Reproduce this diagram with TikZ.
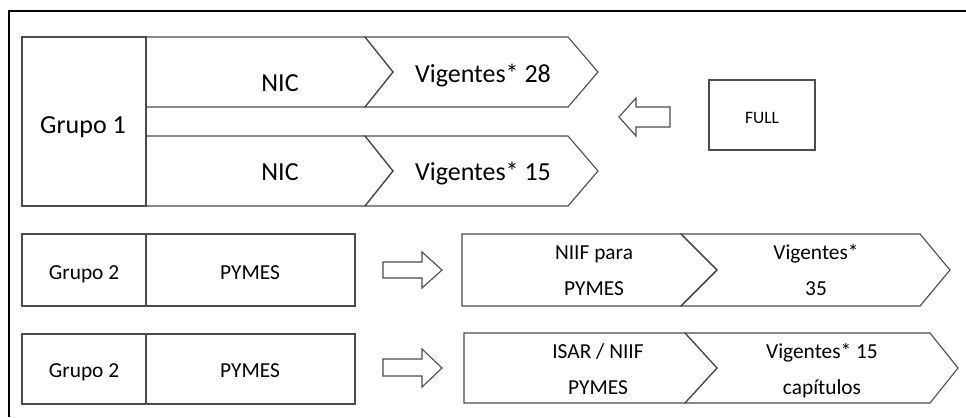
\documentclass[tikz,border=0pt]{standalone}
\usepackage{fontspec}
\setmainfont{Carlito}

\begin{document}
\begin{tikzpicture}[x=0.025cm, y=-0.025cm]

    % Define styles
    \tikzset{
        frame/.style={black, line width=1.3pt},
        outline/.style={black!70, line width=0.8pt},
        bigtext/.style={anchor=base, font=\fontsize{18.5}{22}\selectfont},
        smalltext/.style={anchor=base, font=\fontsize{15.2}{25.6}\selectfont, align=center},
        fulltext/.style={anchor=base, font=\fontsize{12.4}{15}\selectfont}
    }

    \useasboundingbox (0,0) rectangle (966,417);

    % 1. Outer frame (cut at right and bottom)
    \draw[frame] (9,417) -- (9,11) -- (966,11);

    % 2. Grupo 1 with its two rows
    \draw[outline] (22,37) rectangle (146,206);
    \node[bigtext] (Grupo1) at (83,133) {Grupo 1};

    % upper row
    \draw[outline] (146,37) -- (365,37) -- (393,72) -- (365,107) -- (146,107);
    \draw[outline] (365,37) -- (568,37) -- (598,72) -- (568,107) -- (365,107) -- (393,72) -- cycle;
    \node[bigtext] (NicA) at (280,91) {NIC};
    \node[bigtext] (VigA) at (483,82) {Vigentes* 28};

    % lower row
    \draw[outline] (146,136) -- (365,136) -- (393,171) -- (365,206) -- (146,206);
    \draw[outline] (365,136) -- (568,136) -- (598,171) -- (568,206) -- (365,206) -- (393,171) -- cycle;
    \node[bigtext] (NicB) at (280,180) {NIC};
    \node[bigtext] (VigB) at (483,180) {Vigentes* 15};

    % 3. FULL box and hollow arrow pointing left
    \draw[outline] (709,80) rectangle (815,150);
    \node[fulltext] (Full) at (762,123) {FULL};
    \draw[outline] (619,117) -- (636,98) -- (636,107) -- (670,107) -- (670,127)
        -- (636,127) -- (636,136) -- cycle;

    % 4. Grupo 2 (first)
    \draw[outline] (22,234) rectangle (146,306);
    \draw[outline] (146,234) rectangle (355,306);
    \node[smalltext] (GrupoA) at (84,279) {Grupo 2};
    \node[smalltext] (PymesA) at (250,279) {PYMES};
    \draw[outline] (383,262) -- (422,262) -- (422,252) -- (442,270) -- (422,288)
        -- (422,278) -- (383,278) -- cycle;
    \draw[outline] (462,234) -- (681,234) -- (717,270) -- (681,306) -- (462,306) -- cycle;
    \draw[outline] (681,234) -- (920,234) -- (950,270) -- (920,306) -- (681,306) -- (717,270) -- cycle;
    % base of a two-line node = baseline of its last line
    \node[smalltext] (NiifA) at (594,295) {NIIF para\\PYMES};
    \node[smalltext] (VigC) at (816,295) {Vigentes*\\35};

    % 5. Grupo 2 (second)
    \draw[outline] (22,334) rectangle (146,404);
    \draw[outline] (146,334) rectangle (355,404);
    \node[smalltext] (GrupoB) at (84,377) {Grupo 2};
    \node[smalltext] (PymesB) at (250,377) {PYMES};
    \draw[outline] (383,359) -- (422,359) -- (422,349) -- (442,368) -- (422,387)
        -- (422,376) -- (383,376) -- cycle;
    \draw[outline] (464,333) -- (685,333) -- (717,368) -- (685,403) -- (464,403) -- cycle;
    \draw[outline] (685,333) -- (930,333) -- (958,368) -- (930,403) -- (685,403) -- (717,368) -- cycle;
    \node[smalltext] (Isar) at (598,394) {ISAR / NIIF\\PYMES};
    \node[smalltext] (VigD) at (822,394) {Vigentes* 15\\capítulos};

\end{tikzpicture}
\end{document}
